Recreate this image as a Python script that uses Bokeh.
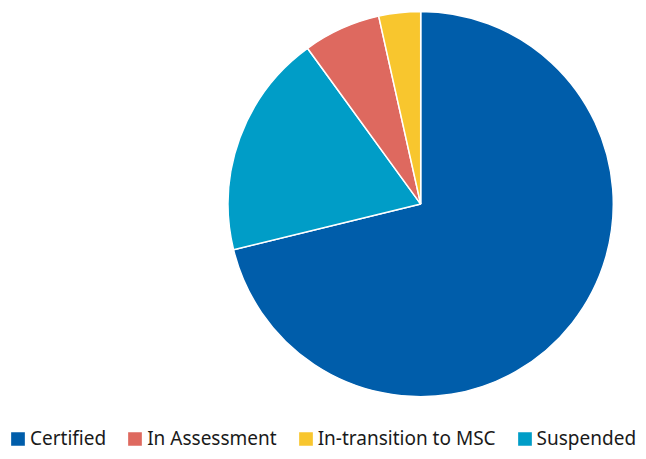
import numpy as np
from bokeh.plotting import figure
from bokeh.models import Range1d, Legend, LegendItem, ColumnDataSource
from bokeh.embed import file_html
from bokeh.resources import INLINE

categories = ["Certified", "In Assessment", "In-transition to MSC", "Suspended"]
shares = [71.2, 6.5, 3.5, 18.8]
colors = ["#005DAA", "#DE695F", "#F8C62E", "#009DC7"]
# drawing order clockwise from 12 o'clock
draw_order = ["Certified", "Suspended", "In Assessment", "In-transition to MSC"]

W, H = 638, 451
p = figure(width=W, height=H, output_backend="svg", toolbar_location=None,
           x_range=Range1d(0, W), y_range=Range1d(-H, 0),
           min_border=0, outline_line_color=None)
p.axis.visible = False
p.grid.visible = False
p.background_fill_color = "white"

cx, cy, r = 420.2, -203.6, 192.6
total = sum(shares)
start = np.pi / 2
renderers = {}
for name in draw_order:
    i = categories.index(name)
    span = shares[i] / total * 2 * np.pi
    src = ColumnDataSource(dict(x=[cx], y=[cy], s=[start], e=[start - span]))
    rr = p.wedge(x="x", y="y", radius=r, start_angle="s", end_angle="e",
                 direction="clock", source=src, fill_color=colors[i],
                 line_color="white", line_width=1.5)
    renderers[name] = rr
    start -= span

items = [LegendItem(label=c, renderers=[renderers[c]]) for c in categories]
legend = Legend(items=items, orientation="horizontal", location=(8, 0),
                glyph_width=19, glyph_height=19, label_standoff=3, spacing=19,
                padding=0, margin=0, border_line_alpha=0, background_fill_alpha=0,
                label_text_font="Noto Sans", label_text_font_size="19px",
                label_text_color="#1a1a1a", label_height=19)
p.add_layout(legend, "center")

open("out.html", "w").write(file_html(p, INLINE))
